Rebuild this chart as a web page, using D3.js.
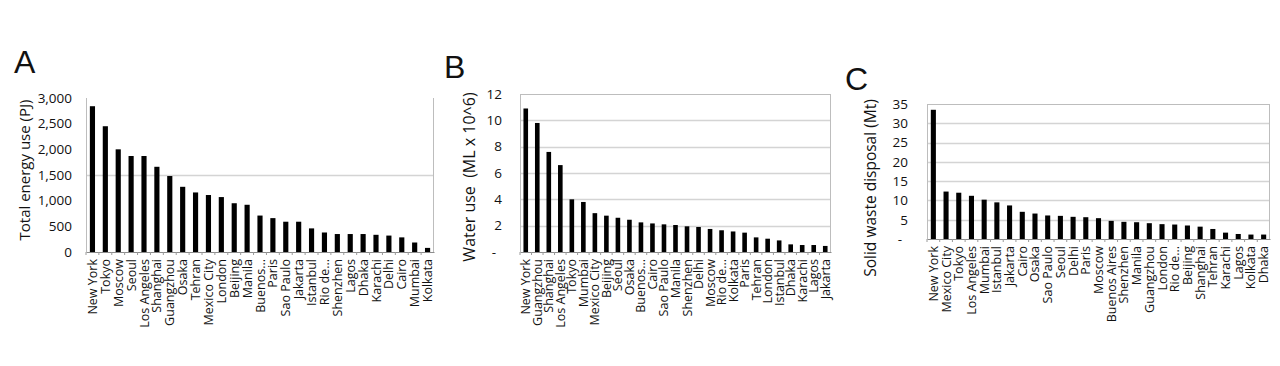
<!DOCTYPE html>
<html>
<head>
<meta charset="utf-8">
<script src="https://cdn.jsdelivr.net/npm/d3@7"></script>
<style>
  body { margin: 0; background: #fff; }
  svg { display: block; }
  text { font-family: "Open Sans", sans-serif; fill: #111; }
</style>
</head>
<body>
<svg id="chart" width="1280" height="366"></svg>
<script>
// panel A - total energy use (PJ)
var energyCities = ["New York", "Tokyo", "Moscow", "Seoul", "Los Angeles", "Shanghai", "Guangzhou",
  "Osaka", "Tehran", "Mexico City", "London", "Beijing", "Manila", "Buenos...", "Paris",
  "Sao Paulo", "Jakarta", "Istanbul", "Rio de...", "Shenzhen", "Lagos", "Dhaka", "Karachi",
  "Delhi", "Cairo", "Mumbai", "Kolkata"];
var energyValues = [2840, 2450, 2000, 1870, 1870, 1660, 1480, 1270, 1160, 1110, 1070, 950, 920,
  710, 660, 590, 590, 460, 380, 350, 350, 350, 335, 320, 285, 185, 80];
var energyTicks = [0, 500, 1000, 1500, 2000, 2500, 3000];

// panel B - water use (ML x 10^6)
var waterCities = ["New York", "Guangzhou", "Shanghai", "Los Angeles", "Tokyo", "Mumbai",
  "Mexico City", "Beijing", "Seoul", "Osaka", "Buenos...", "Cairo", "Sao Paulo", "Manila",
  "Shenzhen", "Delhi", "Moscow", "Rio de...", "Kolkata", "Paris", "Tehran", "London",
  "Istanbul", "Dhaka", "Karachi", "Lagos", "Jakarta"];
var waterValues = [10.9, 9.8, 7.6, 6.6, 4.0, 3.8, 2.95, 2.76, 2.6, 2.45, 2.25, 2.17, 2.1, 2.05,
  1.95, 1.9, 1.75, 1.65, 1.56, 1.47, 1.11, 1.01, 0.88, 0.58, 0.53, 0.53, 0.46];
var waterTicks = [0, 2, 4, 6, 8, 10, 12];

// panel C - solid waste disposal (Mt)
var wasteCities = ["New York", "Mexico City", "Tokyo", "Los Angeles", "Mumbai", "Istanbul",
  "Jakarta", "Cairo", "Osaka", "Sao Paulo", "Seoul", "Delhi", "Paris", "Moscow", "Buenos Aires",
  "Shenzhen", "Manila", "Guangzhou", "London", "Rio de...", "Beijing", "Shanghai", "Tehran",
  "Karachi", "Lagos", "Kolkata", "Dhaka"];
var wasteValues = [33.5, 12.3, 12.0, 11.2, 10.2, 9.5, 8.7, 7.05, 6.6, 6.1, 6.0, 5.75, 5.65, 5.4,
  4.7, 4.45, 4.35, 4.1, 3.85, 3.75, 3.5, 3.2, 2.6, 1.65, 1.3, 1.15, 1.15];
var wasteTicks = [0, 5, 10, 15, 20, 25, 30, 35];

var svg = d3.select("#chart");

function drawPanel(p) {
  var g = svg.append("g");

  var x = d3.scaleBand()
      .domain(p.cities)
      .range([p.left, p.right])
      .paddingInner(0.6)
      .paddingOuter(0.3);

  var y = d3.scaleLinear()
      .domain([0, d3.max(p.ticks)])
      .range([p.bottom, p.top]);

  // gridlines
  g.selectAll(".grid")
    .data(p.grid)
    .enter()
      .append("line")
      .attr("x1", p.left)
      .attr("x2", p.right)
      .attr("y1", function(d) { return Math.round(y(d)) + 0.5; })
      .attr("y2", function(d) { return Math.round(y(d)) + 0.5; })
      .style("stroke", "#d4d4d4")
      .style("stroke-width", 1.5);

  // frame
  g.append("line")
    .attr("x1", p.left + 0.5).attr("x2", p.left + 0.5)
    .attr("y1", p.top).attr("y2", p.bottom)
    .style("stroke", "#bdbdbd");
  g.append("line")
    .attr("x1", p.right - 0.5).attr("x2", p.right - 0.5)
    .attr("y1", p.top).attr("y2", p.bottom)
    .style("stroke", "#bdbdbd");
  if (p.box) {
    g.append("line")
      .attr("x1", p.left).attr("x2", p.right)
      .attr("y1", p.top + 0.5).attr("y2", p.top + 0.5)
      .style("stroke", "#bdbdbd");
  }

  // bars
  g.selectAll("rect")
    .data(p.values)
    .enter()
      .append("rect")
      .style("fill", "#000")
      .attr("x", function(d, i) { return x(p.cities[i]); })
      .attr("width", x.bandwidth())
      .attr("y", function(d) { return y(d); })
      .attr("height", function(d) { return p.bottom - y(d); });

  // x axis
  var xAxis = g.append("g")
      .attr("transform", "translate(0," + p.bottom + ")")
      .call(d3.axisBottom(x).tickSize(0).tickPadding(0));
  xAxis.select(".domain").style("stroke", "#8c8c8c").style("stroke-width", 1.2);
  xAxis.selectAll(".tick text")
      .attr("transform", "rotate(-90)")
      .attr("text-anchor", "end")
      .attr("x", -7)
      .attr("y", 0)
      .attr("dy", "0.36em")
      .style("font-size", "12.5px")
      .style("font-family", "'Open Sans', sans-serif")
      .style("fill", "#111");

  // small ticks between categories
  g.selectAll(".minor")
    .data(p.cities)
    .enter()
      .append("line")
      .attr("x1", function(d) { return x(d) - x.step() * x.paddingInner() / 2; })
      .attr("x2", function(d) { return x(d) - x.step() * x.paddingInner() / 2; })
      .attr("y1", p.bottom)
      .attr("y2", p.bottom + 3)
      .style("stroke", "#9a9a9a");

  // y axis
  var yAxis = g.append("g")
      .attr("transform", "translate(" + p.left + ",0)")
      .call(d3.axisLeft(y).tickValues(p.ticks).tickSize(0).tickPadding(p.pad).tickFormat(p.fmt));
  yAxis.select(".domain").remove();
  yAxis.selectAll(".tick text")
      .style("font-size", "13.5px")
      .style("font-family", "'Open Sans', sans-serif")
      .style("fill", "#111")
      .attr("dx", function(d) { return d === 0 && p.dash ? -6 : 0; });

  // y title
  g.append("text")
    .attr("transform", "translate(" + p.titleX + "," + p.titleY + ") rotate(-90)")
    .attr("text-anchor", "middle")
    .style("font-size", p.titleSize + "px")
    .style("white-space", "pre")
    .text(p.title);

  // panel letter
  g.append("text")
    .attr("x", p.letterX)
    .attr("y", p.letterY)
    .style("font-family", "'Liberation Sans', Arial, sans-serif")
    .style("font-size", "32px")
    .text(p.letter);
}

drawPanel({
  letter: "A", letterX: 14, letterY: 73,
  cities: energyCities, values: energyValues, ticks: energyTicks, grid: [1500],
  left: 86, right: 434, top: 98, bottom: 252, box: false, pad: 14, dash: false,
  fmt: d3.format(","),
  title: "Total energy use (PJ)", titleX: 30, titleY: 170, titleSize: 15
});

drawPanel({
  letter: "B", letterX: 444, letterY: 78,
  cities: waterCities, values: waterValues, ticks: waterTicks, grid: [2, 4, 6, 8, 10],
  left: 520, right: 831, top: 94, bottom: 252, box: true, pad: 18, dash: true,
  fmt: function(d) { return d === 0 ? "-" : d; },
  title: "Water use  (ML x 10^6)", titleX: 475, titleY: 177, titleSize: 16
});

drawPanel({
  letter: "C", letterX: 845, letterY: 90,
  cities: wasteCities, values: wasteValues, ticks: wasteTicks, grid: [5, 10, 15, 20, 25, 30],
  left: 927, right: 1270, top: 104, bottom: 239, box: true, pad: 19, dash: true,
  fmt: function(d) { return d === 0 ? "-" : d; },
  title: "Solid waste disposal (Mt)", titleX: 876, titleY: 188, titleSize: 15.5
});
</script>
</body>
</html>
